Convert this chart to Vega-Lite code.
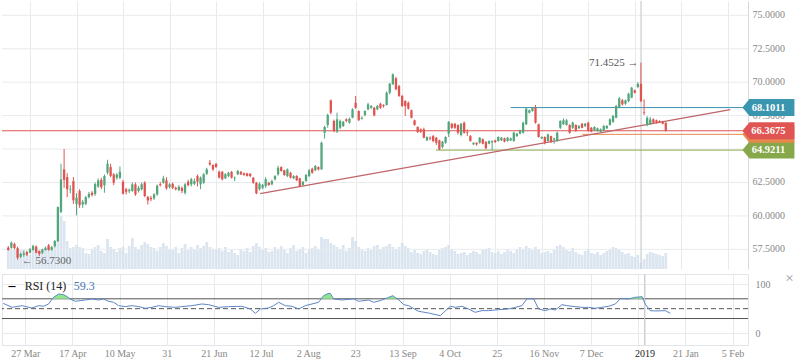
{
"$schema":"https://vega.github.io/schema/vega-lite/v6.json",
"padding":0,
"background":"white",
"spacing":0,
"config":{"view":{"stroke":null},"font":"Liberation Serif","axis":{"labelOverlap":false,"labelFlush":false}},
"datasets":{
"candles":[
{"i":0,"o":57.63,"h":57.75,"l":57.40,"c":57.45,"v":21},
{"i":1,"o":57.62,"h":58.08,"l":57.55,"c":58.00,"v":20},
{"i":2,"o":57.90,"h":58.00,"l":57.50,"c":57.60,"v":19},
{"i":3,"o":57.58,"h":57.70,"l":56.73,"c":56.87,"v":21},
{"i":4,"o":56.95,"h":57.25,"l":56.85,"c":57.15,"v":20},
{"i":5,"o":57.10,"h":57.40,"l":56.95,"c":57.20,"v":19},
{"i":6,"o":57.30,"h":57.40,"l":57.00,"c":57.10,"v":15},
{"i":7,"o":57.25,"h":57.60,"l":57.20,"c":57.50,"v":14},
{"i":8,"o":57.45,"h":57.85,"l":57.40,"c":57.75,"v":19},
{"i":9,"o":57.70,"h":57.80,"l":57.20,"c":57.25,"v":21},
{"i":10,"o":57.37,"h":57.40,"l":57.00,"c":57.15,"v":20},
{"i":11,"o":57.25,"h":57.55,"l":57.15,"c":57.50,"v":18},
{"i":12,"o":57.45,"h":57.70,"l":57.40,"c":57.62,"v":20},
{"i":13,"o":57.80,"h":57.90,"l":57.40,"c":57.45,"v":22},
{"i":14,"o":57.47,"h":57.75,"l":57.40,"c":57.67,"v":21},
{"i":15,"o":57.72,"h":58.20,"l":57.65,"c":58.12,"v":22},
{"i":16,"o":58.12,"h":60.70,"l":58.05,"c":60.66,"v":30},
{"i":17,"o":60.30,"h":63.90,"l":60.20,"c":62.73,"v":53},
{"i":18,"o":63.48,"h":65.00,"l":62.10,"c":62.70,"v":48},
{"i":19,"o":62.90,"h":63.20,"l":61.40,"c":61.99,"v":28},
{"i":20,"o":61.95,"h":62.30,"l":61.70,"c":62.00,"v":21},
{"i":21,"o":62.60,"h":62.90,"l":60.90,"c":61.16,"v":22},
{"i":22,"o":60.90,"h":61.70,"l":60.04,"c":61.36,"v":24},
{"i":23,"o":61.86,"h":62.00,"l":60.60,"c":60.81,"v":22},
{"i":24,"o":60.85,"h":61.20,"l":60.60,"c":61.05,"v":21},
{"i":25,"o":60.90,"h":61.50,"l":60.80,"c":61.40,"v":16},
{"i":26,"o":61.40,"h":61.80,"l":61.30,"c":61.65,"v":15},
{"i":27,"o":61.73,"h":61.85,"l":61.45,"c":61.56,"v":20},
{"i":28,"o":61.64,"h":62.50,"l":61.50,"c":62.38,"v":22},
{"i":29,"o":62.20,"h":62.80,"l":62.10,"c":62.65,"v":24},
{"i":30,"o":62.70,"h":62.85,"l":62.00,"c":62.15,"v":18},
{"i":31,"o":62.30,"h":63.10,"l":61.73,"c":62.98,"v":16},
{"i":32,"o":63.23,"h":64.20,"l":63.10,"c":63.90,"v":30},
{"i":33,"o":63.65,"h":63.90,"l":62.90,"c":62.99,"v":22},
{"i":34,"o":63.10,"h":63.20,"l":62.30,"c":62.48,"v":20},
{"i":35,"o":62.85,"h":63.20,"l":62.70,"c":63.10,"v":17},
{"i":36,"o":62.85,"h":63.70,"l":62.75,"c":63.30,"v":21},
{"i":37,"o":62.56,"h":62.70,"l":61.60,"c":61.66,"v":22},
{"i":38,"o":61.99,"h":62.10,"l":61.60,"c":61.81,"v":16},
{"i":39,"o":61.85,"h":62.05,"l":61.70,"c":61.95,"v":23},
{"i":40,"o":61.86,"h":62.50,"l":61.80,"c":62.36,"v":31},
{"i":41,"o":62.36,"h":62.50,"l":61.50,"c":61.61,"v":22},
{"i":42,"o":61.86,"h":62.25,"l":61.75,"c":62.10,"v":20},
{"i":43,"o":61.99,"h":62.50,"l":61.90,"c":62.36,"v":24},
{"i":44,"o":62.48,"h":62.60,"l":61.40,"c":61.49,"v":27},
{"i":45,"o":61.41,"h":61.50,"l":60.85,"c":61.16,"v":25},
{"i":46,"o":61.35,"h":61.50,"l":61.10,"c":61.25,"v":22},
{"i":47,"o":61.31,"h":61.70,"l":61.20,"c":61.61,"v":21},
{"i":48,"o":61.61,"h":62.35,"l":61.50,"c":62.26,"v":18},
{"i":49,"o":62.38,"h":62.55,"l":62.20,"c":62.30,"v":22},
{"i":50,"o":62.48,"h":63.00,"l":62.40,"c":62.81,"v":26},
{"i":51,"o":62.66,"h":62.90,"l":61.95,"c":62.06,"v":23},
{"i":52,"o":62.16,"h":62.45,"l":62.05,"c":62.36,"v":20},
{"i":53,"o":62.40,"h":62.50,"l":62.00,"c":62.10,"v":19},
{"i":54,"o":62.10,"h":62.20,"l":61.90,"c":62.00,"v":22},
{"i":55,"o":61.93,"h":62.30,"l":61.85,"c":62.18,"v":16},
{"i":56,"o":62.10,"h":62.20,"l":61.70,"c":61.86,"v":21},
{"i":57,"o":61.73,"h":62.45,"l":61.60,"c":62.36,"v":25},
{"i":58,"o":62.56,"h":62.70,"l":62.20,"c":62.31,"v":19},
{"i":59,"o":62.36,"h":62.85,"l":62.20,"c":62.74,"v":22},
{"i":60,"o":62.40,"h":62.80,"l":62.30,"c":62.60,"v":20},
{"i":61,"o":62.98,"h":63.10,"l":62.20,"c":62.56,"v":24},
{"i":62,"o":62.36,"h":62.95,"l":62.00,"c":62.86,"v":21},
{"i":63,"o":62.48,"h":63.20,"l":62.40,"c":63.11,"v":23},
{"i":64,"o":63.15,"h":63.60,"l":63.05,"c":63.48,"v":27},
{"i":65,"o":63.98,"h":64.18,"l":63.75,"c":63.85,"v":22},
{"i":66,"o":63.80,"h":63.85,"l":63.35,"c":63.48,"v":20},
{"i":67,"o":63.90,"h":63.95,"l":63.60,"c":63.65,"v":19},
{"i":68,"o":63.30,"h":63.40,"l":62.80,"c":62.86,"v":21},
{"i":69,"o":63.30,"h":63.35,"l":62.65,"c":62.74,"v":18},
{"i":70,"o":62.81,"h":63.20,"l":62.75,"c":63.11,"v":22},
{"i":71,"o":62.98,"h":63.30,"l":62.90,"c":63.23,"v":17},
{"i":72,"o":63.30,"h":63.35,"l":62.80,"c":62.86,"v":19},
{"i":73,"o":62.81,"h":62.95,"l":62.60,"c":62.86,"v":16},
{"i":74,"o":63.11,"h":63.45,"l":63.05,"c":63.36,"v":14},
{"i":75,"o":63.30,"h":63.35,"l":63.05,"c":63.11,"v":20},
{"i":76,"o":63.18,"h":63.25,"l":63.00,"c":63.06,"v":18},
{"i":77,"o":63.18,"h":63.22,"l":62.95,"c":62.98,"v":21},
{"i":78,"o":63.15,"h":63.20,"l":62.90,"c":62.98,"v":17},
{"i":79,"o":62.86,"h":62.90,"l":62.40,"c":62.48,"v":23},
{"i":80,"o":62.48,"h":62.55,"l":61.62,"c":61.69,"v":26},
{"i":81,"o":61.99,"h":62.50,"l":61.90,"c":62.41,"v":22},
{"i":82,"o":62.11,"h":62.40,"l":62.00,"c":62.31,"v":19},
{"i":83,"o":62.23,"h":62.90,"l":62.10,"c":62.74,"v":21},
{"i":84,"o":62.48,"h":62.55,"l":62.25,"c":62.31,"v":17},
{"i":85,"o":62.36,"h":62.70,"l":62.30,"c":62.61,"v":18},
{"i":86,"o":62.74,"h":63.05,"l":62.65,"c":62.98,"v":22},
{"i":87,"o":63.11,"h":63.75,"l":63.00,"c":63.60,"v":20},
{"i":88,"o":63.65,"h":63.70,"l":63.30,"c":63.36,"v":23},
{"i":89,"o":63.41,"h":63.45,"l":63.00,"c":63.06,"v":19},
{"i":90,"o":62.98,"h":63.55,"l":62.90,"c":63.48,"v":16},
{"i":91,"o":63.23,"h":63.30,"l":62.80,"c":62.86,"v":21},
{"i":92,"o":62.81,"h":63.05,"l":62.75,"c":62.98,"v":24},
{"i":93,"o":62.98,"h":63.05,"l":62.60,"c":62.66,"v":18},
{"i":94,"o":62.81,"h":62.85,"l":62.15,"c":62.23,"v":20},
{"i":95,"o":62.31,"h":62.60,"l":62.25,"c":62.56,"v":22},
{"i":96,"o":62.61,"h":63.15,"l":62.55,"c":63.06,"v":16},
{"i":97,"o":62.98,"h":63.50,"l":62.90,"c":63.41,"v":19},
{"i":98,"o":63.53,"h":63.60,"l":63.15,"c":63.23,"v":21},
{"i":99,"o":63.41,"h":63.80,"l":63.35,"c":63.73,"v":23},
{"i":100,"o":63.65,"h":63.70,"l":63.40,"c":63.48,"v":20},
{"i":101,"o":63.48,"h":65.55,"l":63.45,"c":65.47,"v":32},
{"i":102,"o":66.22,"h":66.75,"l":65.77,"c":66.65,"v":30},
{"i":103,"o":66.80,"h":67.65,"l":66.60,"c":67.54,"v":30},
{"i":104,"o":68.64,"h":68.70,"l":67.60,"c":67.72,"v":26},
{"i":105,"o":67.10,"h":67.20,"l":66.25,"c":66.35,"v":24},
{"i":106,"o":66.30,"h":67.72,"l":66.20,"c":67.22,"v":22},
{"i":107,"o":66.59,"h":67.20,"l":66.50,"c":67.10,"v":20},
{"i":108,"o":66.72,"h":67.10,"l":66.65,"c":67.04,"v":24},
{"i":109,"o":67.22,"h":67.30,"l":67.00,"c":67.10,"v":18},
{"i":110,"o":66.97,"h":67.35,"l":66.90,"c":67.26,"v":21},
{"i":111,"o":67.34,"h":68.05,"l":67.30,"c":67.97,"v":32},
{"i":112,"o":68.46,"h":68.97,"l":68.00,"c":68.09,"v":28},
{"i":113,"o":67.84,"h":67.90,"l":67.10,"c":67.15,"v":22},
{"i":114,"o":67.26,"h":67.45,"l":67.20,"c":67.34,"v":20},
{"i":115,"o":67.54,"h":67.90,"l":67.45,"c":67.84,"v":18},
{"i":116,"o":67.97,"h":68.46,"l":67.90,"c":68.34,"v":21},
{"i":117,"o":68.09,"h":68.30,"l":68.00,"c":68.22,"v":19},
{"i":118,"o":68.09,"h":68.15,"l":67.45,"c":67.52,"v":23},
{"i":119,"o":67.97,"h":68.30,"l":67.90,"c":68.22,"v":24},
{"i":120,"o":68.39,"h":68.45,"l":68.00,"c":68.09,"v":20},
{"i":121,"o":68.29,"h":68.35,"l":68.10,"c":68.22,"v":22},
{"i":122,"o":68.30,"h":69.30,"l":68.25,"c":69.21,"v":23},
{"i":123,"o":69.21,"h":69.95,"l":69.10,"c":69.88,"v":25},
{"i":124,"o":69.84,"h":70.65,"l":69.80,"c":70.59,"v":22},
{"i":125,"o":70.29,"h":70.40,"l":69.40,"c":69.47,"v":20},
{"i":126,"o":69.71,"h":69.80,"l":68.90,"c":68.97,"v":22},
{"i":127,"o":68.97,"h":69.05,"l":68.15,"c":68.22,"v":26},
{"i":128,"o":68.59,"h":68.65,"l":67.47,"c":68.22,"v":23},
{"i":129,"o":68.46,"h":68.55,"l":67.95,"c":68.02,"v":21},
{"i":130,"o":67.90,"h":67.95,"l":67.30,"c":67.34,"v":17},
{"i":131,"o":67.15,"h":67.20,"l":66.75,"c":66.80,"v":19},
{"i":132,"o":66.65,"h":66.70,"l":66.20,"c":66.27,"v":16},
{"i":133,"o":66.47,"h":66.55,"l":66.20,"c":66.30,"v":15},
{"i":134,"o":66.47,"h":66.60,"l":65.80,"c":65.85,"v":18},
{"i":135,"o":65.65,"h":65.95,"l":65.60,"c":65.90,"v":20},
{"i":136,"o":65.85,"h":65.95,"l":65.65,"c":65.78,"v":17},
{"i":137,"o":65.97,"h":66.05,"l":65.50,"c":65.60,"v":15},
{"i":138,"o":65.85,"h":65.90,"l":65.30,"c":65.47,"v":14},
{"i":139,"o":65.65,"h":65.70,"l":64.92,"c":64.98,"v":19},
{"i":140,"o":65.15,"h":65.60,"l":65.05,"c":65.55,"v":21},
{"i":141,"o":65.47,"h":65.95,"l":65.40,"c":65.90,"v":22},
{"i":142,"o":66.15,"h":67.10,"l":65.90,"c":67.02,"v":24},
{"i":143,"o":66.89,"h":66.95,"l":66.50,"c":66.59,"v":20},
{"i":144,"o":66.89,"h":66.95,"l":66.50,"c":66.59,"v":18},
{"i":145,"o":66.80,"h":66.85,"l":66.10,"c":66.22,"v":15},
{"i":146,"o":66.05,"h":66.95,"l":65.95,"c":66.89,"v":16},
{"i":147,"o":66.97,"h":67.05,"l":66.15,"c":66.22,"v":17},
{"i":148,"o":66.25,"h":66.47,"l":65.97,"c":66.20,"v":14},
{"i":149,"o":65.97,"h":66.05,"l":65.55,"c":65.60,"v":16},
{"i":150,"o":65.35,"h":65.50,"l":65.30,"c":65.47,"v":18},
{"i":151,"o":65.47,"h":65.50,"l":65.25,"c":65.35,"v":17},
{"i":152,"o":65.47,"h":65.90,"l":65.40,"c":65.85,"v":15},
{"i":153,"o":65.73,"h":65.80,"l":65.35,"c":65.40,"v":19},
{"i":154,"o":65.52,"h":65.60,"l":65.00,"c":65.05,"v":20},
{"i":155,"o":65.40,"h":65.65,"l":65.35,"c":65.60,"v":21},
{"i":156,"o":65.50,"h":65.65,"l":64.92,"c":65.60,"v":17},
{"i":157,"o":65.65,"h":65.70,"l":65.45,"c":65.52,"v":16},
{"i":158,"o":65.60,"h":65.95,"l":65.55,"c":65.90,"v":18},
{"i":159,"o":65.65,"h":65.90,"l":65.60,"c":65.85,"v":15},
{"i":160,"o":65.80,"h":65.85,"l":65.50,"c":65.55,"v":17},
{"i":161,"o":65.60,"h":65.90,"l":65.55,"c":65.85,"v":19},
{"i":162,"o":65.65,"h":65.85,"l":65.60,"c":65.80,"v":18},
{"i":163,"o":65.60,"h":66.30,"l":65.55,"c":66.22,"v":16},
{"i":164,"o":65.97,"h":66.20,"l":65.90,"c":66.15,"v":20},
{"i":165,"o":66.15,"h":66.45,"l":66.10,"c":66.40,"v":22},
{"i":166,"o":66.22,"h":67.05,"l":66.15,"c":66.97,"v":20},
{"i":167,"o":66.85,"h":68.10,"l":66.80,"c":68.02,"v":23},
{"i":168,"o":67.72,"h":67.95,"l":67.65,"c":67.90,"v":21},
{"i":169,"o":67.84,"h":68.15,"l":67.80,"c":68.09,"v":19},
{"i":170,"o":68.09,"h":68.29,"l":66.90,"c":66.97,"v":22},
{"i":171,"o":66.85,"h":66.90,"l":65.85,"c":65.90,"v":20},
{"i":172,"o":65.80,"h":65.95,"l":65.75,"c":65.90,"v":16},
{"i":173,"o":65.90,"h":65.95,"l":65.35,"c":65.47,"v":17},
{"i":174,"o":65.60,"h":66.15,"l":65.55,"c":66.10,"v":18},
{"i":175,"o":65.97,"h":66.00,"l":65.45,"c":65.55,"v":16},
{"i":176,"o":65.70,"h":65.85,"l":65.40,"c":65.80,"v":19},
{"i":177,"o":65.60,"h":66.30,"l":65.55,"c":66.22,"v":23},
{"i":178,"o":66.59,"h":67.15,"l":66.50,"c":67.10,"v":24},
{"i":179,"o":66.85,"h":67.30,"l":66.80,"c":67.15,"v":22},
{"i":180,"o":66.80,"h":67.25,"l":66.75,"c":67.15,"v":19},
{"i":181,"o":66.80,"h":66.85,"l":66.15,"c":66.22,"v":18},
{"i":182,"o":66.59,"h":67.05,"l":66.50,"c":66.97,"v":21},
{"i":183,"o":66.80,"h":66.85,"l":66.30,"c":66.35,"v":17},
{"i":184,"o":66.55,"h":66.80,"l":66.50,"c":66.72,"v":15},
{"i":185,"o":66.89,"h":66.95,"l":66.55,"c":66.59,"v":14},
{"i":186,"o":66.72,"h":66.95,"l":66.65,"c":66.89,"v":18},
{"i":187,"o":66.97,"h":67.05,"l":66.30,"c":66.35,"v":20},
{"i":188,"o":66.59,"h":66.65,"l":66.25,"c":66.30,"v":16},
{"i":189,"o":66.40,"h":66.70,"l":66.35,"c":66.65,"v":15},
{"i":190,"o":66.35,"h":66.60,"l":66.30,"c":66.55,"v":17},
{"i":191,"o":66.30,"h":66.55,"l":66.25,"c":66.47,"v":14},
{"i":192,"o":66.40,"h":66.80,"l":66.35,"c":66.72,"v":16},
{"i":193,"o":66.55,"h":66.80,"l":66.50,"c":66.72,"v":18},
{"i":194,"o":66.80,"h":67.30,"l":66.75,"c":67.22,"v":20},
{"i":195,"o":67.04,"h":67.55,"l":66.95,"c":67.47,"v":22},
{"i":196,"o":67.34,"h":68.30,"l":67.30,"c":68.22,"v":21},
{"i":197,"o":68.14,"h":68.90,"l":68.05,"c":68.79,"v":19},
{"i":198,"o":68.64,"h":68.75,"l":68.25,"c":68.34,"v":17},
{"i":199,"o":68.39,"h":68.70,"l":68.30,"c":68.64,"v":15},
{"i":200,"o":68.59,"h":69.20,"l":68.50,"c":69.14,"v":16},
{"i":201,"o":68.84,"h":69.65,"l":68.80,"c":69.59,"v":13},
{"i":202,"o":69.39,"h":69.45,"l":69.15,"c":69.21,"v":12},
{"i":203,"o":69.64,"h":70.00,"l":69.55,"c":69.88,"v":14},
{"i":204,"o":69.88,"h":71.4525,"l":68.50,"c":68.59,"v":6},
{"i":205,"o":67.77,"h":68.72,"l":67.54,"c":67.72,"v":10},
{"i":206,"o":66.80,"h":67.45,"l":66.70,"c":67.34,"v":15},
{"i":207,"o":66.85,"h":67.40,"l":66.80,"c":67.22,"v":17},
{"i":208,"o":67.22,"h":67.30,"l":66.90,"c":66.97,"v":16},
{"i":209,"o":67.15,"h":67.20,"l":66.90,"c":66.97,"v":15},
{"i":210,"o":67.10,"h":67.15,"l":66.95,"c":67.02,"v":14},
{"i":211,"o":67.04,"h":67.10,"l":66.85,"c":66.89,"v":13},
{"i":212,"o":66.97,"h":67.00,"l":66.30,"c":66.3675,"v":16}
],
"rsi":[
{"i":0,"r":60.8},{"i":2.8,"r":52.7},{"i":6.0,"r":56.1},{"i":9.1,"r":51.4},{"i":11.3,"r":56.1},{"i":12.8,"r":54.8},{"i":14.4,"r":59.5},{"i":16.0,"r":73.0},{"i":17.6,"r":79.7},{"i":19.2,"r":78.4},{"i":20.3,"r":74.3},{"i":21.3,"r":69.6},{"i":22.9,"r":64.9},{"i":24.5,"r":66.3},{"i":26.1,"r":67.6},{"i":28.2,"r":69.6},{"i":30.3,"r":67.6},{"i":31.9,"r":69.5},{"i":33.5,"r":64.9},{"i":35.1,"r":62.9},{"i":36.7,"r":56.1},{"i":38.8,"r":54.1},{"i":40.9,"r":56.1},{"i":43.1,"r":54.1},{"i":45.2,"r":50.7},{"i":47.3,"r":52.7},{"i":49.4,"r":56.1},{"i":51.5,"r":54.1},{"i":54.7,"r":52.7},{"i":56.8,"r":54.1},{"i":60.0,"r":56.1},{"i":63.2,"r":59.5},{"i":65.3,"r":58.1},{"i":68.5,"r":52.7},{"i":71.7,"r":54.1},{"i":75.9,"r":54.8},{"i":78.6,"r":49.4},{"i":80.2,"r":40.6},{"i":81.8,"r":49.4},{"i":84.4,"r":51.4},{"i":86.0,"r":56.1},{"i":87.6,"r":62.9},{"i":89.7,"r":56.1},{"i":91.8,"r":54.8},{"i":94.0,"r":49.4},{"i":96.1,"r":56.1},{"i":98.2,"r":59.5},{"i":100.3,"r":62.9},{"i":101.9,"r":76.3},{"i":103.3,"r":80.5},{"i":104.0,"r":81.0},{"i":105.1,"r":69.6},{"i":107.7,"r":67.6},{"i":111.5,"r":69.8},{"i":113.0,"r":64.9},{"i":116.2,"r":67.6},{"i":117.8,"r":62.9},{"i":119.9,"r":66.3},{"i":122.6,"r":73.0},{"i":123.9,"r":76.3},{"i":125.8,"r":67.6},{"i":127.4,"r":58.1},{"i":128.9,"r":56.1},{"i":132.1,"r":44.6},{"i":135.3,"r":41.2},{"i":139.0,"r":35.8},{"i":142.2,"r":54.8},{"i":143.8,"r":52.7},{"i":145.9,"r":54.8},{"i":148.0,"r":49.4},{"i":150.1,"r":42.6},{"i":152.3,"r":46.0},{"i":154.4,"r":46.0},{"i":157.6,"r":48.0},{"i":160.8,"r":49.4},{"i":162.9,"r":52.7},{"i":165.0,"r":56.1},{"i":166.6,"r":70.0},{"i":168.7,"r":69.8},{"i":170.3,"r":49.4},{"i":172.4,"r":46.0},{"i":174.0,"r":49.4},{"i":175.6,"r":47.3},{"i":177.7,"r":58.1},{"i":179.3,"r":56.1},{"i":180.9,"r":54.8},{"i":181.9,"r":54.1},{"i":184.1,"r":52.7},{"i":186.2,"r":52.7},{"i":188.3,"r":50.7},{"i":190.4,"r":52.7},{"i":192.6,"r":54.8},{"i":194.7,"r":59.5},{"i":196.3,"r":70.2},{"i":198.9,"r":69.8},{"i":201.0,"r":73.0},{"i":203.2,"r":74.3},{"i":204.2,"r":59.5},{"i":205.8,"r":46.0},{"i":207.4,"r":45.3},{"i":210.6,"r":46.0},{"i":212.2,"r":40.6}
],
"ob":[
{"seg":1,"i":15.6,"r":70},{"seg":1,"i":16.0,"r":73.0},{"seg":1,"i":17.6,"r":79.7},{"seg":1,"i":19.2,"r":78.4},{"seg":1,"i":20.3,"r":74.3},{"seg":1,"i":21.0,"r":70},
{"seg":2,"i":101.1,"r":70},{"seg":2,"i":101.9,"r":76.3},{"seg":2,"i":103.3,"r":80.5},{"seg":2,"i":104.0,"r":81.0},{"seg":2,"i":104.9,"r":70},
{"seg":3,"i":121.4,"r":70},{"seg":3,"i":122.6,"r":73.0},{"seg":3,"i":123.9,"r":76.3},{"seg":3,"i":125.1,"r":70},
{"seg":4,"i":199.0,"r":70},{"seg":4,"i":201.0,"r":73.0},{"seg":4,"i":203.2,"r":74.3},{"seg":4,"i":203.5,"r":70}
],
"levels":[
{"name":"teal","p":68.1011,"s":162.0,"e":236.9},
{"name":"olive","p":64.9211,"s":137.9,"e":236.9},
{"name":"orange","p":66.10,"s":185.1,"e":236.9}
],
"trend":[{"i":81.2,"p":61.66},{"i":232.8,"p":67.94}],
"tags":[
{"name":"olive","p":64.9211,"label":"64.9211"},
{"name":"orange","p":66.10,"label":""},
{"name":"red","p":66.3675,"label":"66.3675"},
{"name":"teal","p":68.1011,"label":"68.1011"}
],
"pticks":[{"p":57.5},{"p":60},{"p":62.5},{"p":65},{"p":67.5},{"p":70},{"p":72.5},{"p":75}],
"rlines":[{"lvl":70},{"lvl":30}]
},
"vconcat":[
{
"width":746,"height":268,
"layer":[
{"data":{"name":"candles"},
 "mark":{"type":"bar","width":2.7,"color":"#d3e0ed","opacity":0.85,"clip":true},
 "encoding":{
  "x":{"field":"i","type":"quantitative","scale":{"domain":[-0.41,236.9],"nice":false,"zero":false},
       "axis":{"values":[7,22,37,52,67,82,97,112,127,142,157,172,187,202,204,217,232],"labels":false,"ticks":false,"domain":false,"grid":true,"gridColor":"#e8ebee","title":null}},
  "y":{"field":"v","type":"quantitative","scale":{"domain":[0,268]},"axis":null}}},
{"layer":[
 {"data":{"name":"pticks"},
  "mark":{"type":"rule","color":"#e8ebee","strokeWidth":1},
  "encoding":{"y":{"field":"p","type":"quantitative","scale":{"domain":[56.03,76.07],"nice":false,"zero":false},
    "axis":{"orient":"right","labels":false,"ticks":false,"grid":false,"domain":true,"domainColor":"#d6d9dc","title":null}}}},
 {"data":{"values":[{}]},
  "mark":{"type":"rule","color":"#c9ccd0","strokeWidth":1},
  "encoding":{"x":{"datum":204,"type":"quantitative","scale":{"domain":[-0.41,236.9],"nice":false,"zero":false}}}},
 {"data":{"name":"pticks"},
  "mark":{"type":"text","align":"left","baseline":"middle","fontSize":10,"color":"#888888"},
  "encoding":{
   "x":{"datum":240.0,"type":"quantitative","scale":{"domain":[-0.41,236.9],"nice":false,"zero":false}},
   "y":{"field":"p","type":"quantitative","scale":{"domain":[56.03,76.07],"nice":false,"zero":false}},
   "text":{"field":"p","type":"quantitative","format":".4f"}}},
 {"data":{"values":[{}]},
  "mark":{"type":"rule","color":"#e05454","strokeWidth":1},
  "encoding":{"y":{"datum":66.3675,"type":"quantitative","scale":{"domain":[56.03,76.07],"nice":false,"zero":false}}}},
 {"data":{"name":"levels"},
  "mark":{"type":"rule","strokeWidth":1},
  "encoding":{
   "x":{"field":"s","type":"quantitative","scale":{"domain":[-0.41,236.9],"nice":false,"zero":false}},
   "x2":{"field":"e"},
   "y":{"field":"p","type":"quantitative","scale":{"domain":[56.03,76.07],"nice":false,"zero":false}},
   "color":{"field":"name","type":"nominal","scale":{"domain":["teal","olive","orange","red"],"range":["#3a95ae","#86a84a","#e6874c","#e05454"]},"legend":null}}},
 {"data":{"name":"trend"},
  "mark":{"type":"line","color":"#bf6468","strokeWidth":1.3},
  "encoding":{
   "x":{"field":"i","type":"quantitative","scale":{"domain":[-0.41,236.9],"nice":false,"zero":false}},
   "y":{"field":"p","type":"quantitative","scale":{"domain":[56.03,76.07],"nice":false,"zero":false}}}},
 {"data":{"name":"candles"},
  "mark":{"type":"rule","strokeWidth":1},
  "encoding":{
   "x":{"field":"i","type":"quantitative","scale":{"domain":[-0.41,236.9],"nice":false,"zero":false}},
   "y":{"field":"l","type":"quantitative","scale":{"domain":[56.03,76.07],"nice":false,"zero":false}},
   "y2":{"field":"h"},
   "color":{"condition":{"test":"datum.c >= datum.o","value":"#53a67c"},"value":"#e05450"}}},
 {"data":{"name":"candles"},
  "mark":{"type":"bar","width":2.3},
  "encoding":{
   "x":{"field":"i","type":"quantitative","scale":{"domain":[-0.41,236.9],"nice":false,"zero":false}},
   "y":{"field":"o","type":"quantitative","scale":{"domain":[56.03,76.07],"nice":false,"zero":false}},
   "y2":{"field":"c"},
   "color":{"condition":{"test":"datum.c >= datum.o","value":"#53a67c"},"value":"#e05450"}}},
 {"data":{"values":[{"t":"71.4525 →"}]},
  "mark":{"type":"text","align":"right","baseline":"middle","fontSize":11,"color":"#555555"},
  "encoding":{
   "x":{"datum":203.2,"type":"quantitative","scale":{"domain":[-0.41,236.9],"nice":false,"zero":false}},
   "y":{"datum":71.43,"type":"quantitative","scale":{"domain":[56.03,76.07],"nice":false,"zero":false}},
   "text":{"field":"t"}}},
 {"data":{"values":[{"t":"← 56.7300"}]},
  "mark":{"type":"text","align":"left","baseline":"middle","fontSize":11,"color":"#666666"},
  "encoding":{
   "x":{"datum":4.36,"type":"quantitative","scale":{"domain":[-0.41,236.9],"nice":false,"zero":false}},
   "y":{"datum":56.62,"type":"quantitative","scale":{"domain":[56.03,76.07],"nice":false,"zero":false}},
   "text":{"field":"t"}}},
 {"data":{"name":"tags"},
  "mark":{"type":"point","shape":"M-1,0L-0.73,-0.327L1,-0.327L1,0.327L-0.73,0.327Z","filled":true,"size":2704,"opacity":1,"strokeWidth":0},
  "encoding":{
   "x":{"datum":245.1,"type":"quantitative","scale":{"domain":[-0.41,236.9],"nice":false,"zero":false}},
   "y":{"field":"p","type":"quantitative","scale":{"domain":[56.03,76.07],"nice":false,"zero":false}},
   "color":{"field":"name","type":"nominal","scale":{"domain":["teal","olive","orange","red"],"range":["#3a95ae","#86a84a","#e6874c","#e05454"]},"legend":null}}},
 {"data":{"name":"tags"},
  "mark":{"type":"text","align":"center","baseline":"middle","fontSize":10.5,"fontWeight":"bold","color":"white"},
  "encoding":{
   "x":{"datum":245.1,"type":"quantitative","scale":{"domain":[-0.41,236.9],"nice":false,"zero":false}},
   "y":{"field":"p","type":"quantitative","scale":{"domain":[56.03,76.07],"nice":false,"zero":false}},
   "text":{"field":"label"}}}
]}
],
"resolve":{"scale":{"y":"independent"}}
},
{
"width":746,"height":71,
"view":{"stroke":"#e1e4e8"},
"layer":[
 {"data":{"name":"rlines"},
  "mark":{"type":"rule","color":"#555555","strokeWidth":1},
  "encoding":{"y":{"field":"lvl","type":"quantitative","scale":{"domain":[-23.7,120.3],"nice":false,"zero":false},
    "axis":{"orient":"right","values":[0,100],"grid":true,"gridColor":"#e8ebee","ticks":false,"domain":false,"labelPadding":7,"labelColor":"#888888","labelFontSize":10,"title":null}}}},
 {"data":{"values":[{}]},
  "mark":{"type":"rule","color":"#555555","strokeWidth":1,"strokeDash":[5,3]},
  "encoding":{"y":{"datum":50,"type":"quantitative","scale":{"domain":[-23.7,120.3],"nice":false,"zero":false}}}},
 {"data":{"values":[{}]},
  "mark":{"type":"rule","color":"#c9ccd0","strokeWidth":1},
  "encoding":{"x":{"datum":204,"type":"quantitative","scale":{"domain":[-0.41,236.9],"nice":false,"zero":false}}}},
 {"data":{"name":"ob"},
  "mark":{"type":"area","color":"#8ee68e","opacity":1},
  "encoding":{
   "x":{"field":"i","type":"quantitative","scale":{"domain":[-0.41,236.9],"nice":false,"zero":false}},
   "y":{"field":"r","type":"quantitative","scale":{"domain":[-23.7,120.3],"nice":false,"zero":false}},
   "y2":{"datum":70},
   "detail":{"field":"seg","type":"nominal"}}},
 {"data":{"name":"rsi"},
  "mark":{"type":"line","color":"#5d87c6","strokeWidth":1},
  "encoding":{
   "x":{"field":"i","type":"quantitative","scale":{"domain":[-0.41,236.9],"nice":false,"zero":false},
     "axis":{"values":[7,22,37,52,67,82,97,112,127,142,157,172,187,202,204,217,232],
       "labelExpr":"datum.value==7?'27 Mar':datum.value==22?'17 Apr':datum.value==37?'10 May':datum.value==52?'31':datum.value==67?'21 Jun':datum.value==82?'12 Jul':datum.value==97?'2 Aug':datum.value==112?'23':datum.value==127?'13 Sep':datum.value==142?'4 Oct':datum.value==157?'25':datum.value==172?'16 Nov':datum.value==187?'7 Dec':datum.value==204?'2019':datum.value==217?'21 Jan':datum.value==232?'5 Feb':''",
       "labelOverlap":false,"labelFlush":false,"grid":true,"gridColor":"#e8ebee","ticks":false,"domain":false,"labelPadding":3,"labelFontSize":10,
       "labelColor":{"condition":{"test":"datum.value==204","value":"#222222"},"value":"#888888"},
       "title":null}},
   "y":{"field":"r","type":"quantitative","scale":{"domain":[-23.7,120.3],"nice":false,"zero":false}}}},
 {"data":{"values":[{"t":"–"}]},
  "mark":{"type":"text","align":"center","baseline":"middle","fontSize":14,"fontWeight":"bold","color":"#000000"},
  "encoding":{
   "x":{"datum":2.8,"type":"quantitative","scale":{"domain":[-0.41,236.9],"nice":false,"zero":false}},
   "y":{"datum":95.3,"type":"quantitative","scale":{"domain":[-23.7,120.3],"nice":false,"zero":false}},
   "text":{"field":"t"}}},
 {"data":{"values":[{"t":"RSI (14)"}]},
  "mark":{"type":"text","align":"left","baseline":"middle","fontSize":12,"color":"#222222"},
  "encoding":{
   "x":{"datum":6.8,"type":"quantitative","scale":{"domain":[-0.41,236.9],"nice":false,"zero":false}},
   "y":{"datum":95.3,"type":"quantitative","scale":{"domain":[-23.7,120.3],"nice":false,"zero":false}},
   "text":{"field":"t"}}},
 {"data":{"values":[{"t":"59.3"}]},
  "mark":{"type":"text","align":"left","baseline":"middle","fontSize":12,"color":"#4a74b8"},
  "encoding":{
   "x":{"datum":22.4,"type":"quantitative","scale":{"domain":[-0.41,236.9],"nice":false,"zero":false}},
   "y":{"datum":95.3,"type":"quantitative","scale":{"domain":[-23.7,120.3],"nice":false,"zero":false}},
   "text":{"field":"t"}}},
 {"data":{"values":[{"t":"×"}]},
  "mark":{"type":"text","align":"center","baseline":"middle","fontSize":15,"color":"#999999"},
  "encoding":{
   "x":{"datum":250.1,"type":"quantitative","scale":{"domain":[-0.41,236.9],"nice":false,"zero":false}},
   "y":{"datum":112.2,"type":"quantitative","scale":{"domain":[-23.7,120.3],"nice":false,"zero":false}},
   "text":{"field":"t"}}}
]
}
]
}
